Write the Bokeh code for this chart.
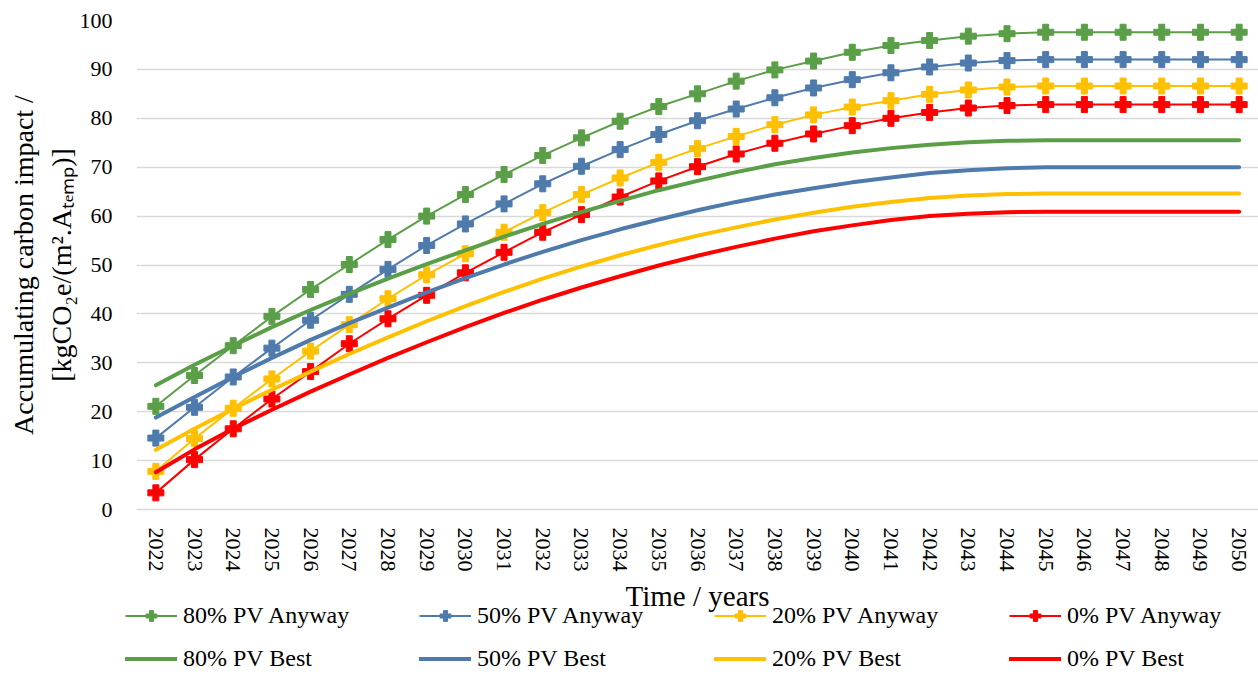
from bokeh.plotting import figure
from bokeh.layouts import column
from bokeh.models import Legend, LegendItem, FactorRange, Range1d, Label
from bokeh.embed import file_html
from bokeh.resources import INLINE

# Years on the category axis
years = ["2022", "2023", "2024", "2025", "2026", "2027", "2028", "2029", "2030",
         "2031", "2032", "2033", "2034", "2035", "2036", "2037", "2038", "2039",
         "2040", "2041", "2042", "2043", "2044", "2045", "2046", "2047", "2048",
         "2049", "2050"]

# "Anyway" scenarios (kgCO2e per m2 Atemp, accumulated)
anyway_80 = [21.1, 27.4, 33.5, 39.5, 45.0, 50.1, 55.2, 60.0, 64.4, 68.5, 72.4, 76.0,
             79.4, 82.4, 85.0, 87.6, 89.9, 91.7, 93.5, 94.9, 95.9, 96.8, 97.3, 97.6,
             97.6, 97.6, 97.6, 97.6, 97.6]
anyway_50 = [14.6, 20.9, 27.1, 33.0, 38.7, 44.0, 49.1, 54.0, 58.4, 62.5, 66.6, 70.2,
             73.6, 76.7, 79.5, 81.9, 84.2, 86.2, 87.9, 89.3, 90.5, 91.3, 91.8, 92.0,
             92.0, 92.0, 92.0, 92.0, 92.0]
anyway_20 = [7.8, 14.5, 20.7, 26.7, 32.4, 37.8, 43.1, 48.0, 52.3, 56.7, 60.7, 64.4,
             67.8, 71.0, 73.8, 76.3, 78.7, 80.7, 82.3, 83.6, 84.9, 85.8, 86.4, 86.6,
             86.6, 86.6, 86.6, 86.6, 86.6]
anyway_0 = [3.4, 10.2, 16.5, 22.6, 28.2, 33.9, 39.0, 43.8, 48.4, 52.6, 56.7, 60.3,
            63.9, 67.2, 70.1, 72.7, 74.9, 76.8, 78.5, 80.0, 81.2, 82.1, 82.6, 82.8,
            82.8, 82.8, 82.8, 82.8, 82.8]

# "Best" scenarios
best_80 = [25.4, 29.6, 33.5, 37.3, 40.8, 44.1, 47.2, 50.2, 53.0, 55.8, 58.4, 60.8,
           63.1, 65.3, 67.2, 69.0, 70.6, 71.9, 73.0, 73.9, 74.6, 75.1, 75.4, 75.5,
           75.5, 75.5, 75.5, 75.5, 75.5]
best_50 = [18.8, 23.0, 27.1, 31.0, 34.7, 38.1, 41.3, 44.4, 47.3, 50.1, 52.7, 55.1,
           57.3, 59.3, 61.2, 62.9, 64.4, 65.7, 66.9, 67.9, 68.8, 69.4, 69.8, 70.0,
           70.0, 70.0, 70.0, 70.0, 70.0]
best_20 = [12.2, 16.5, 20.6, 24.5, 28.2, 31.8, 35.2, 38.5, 41.6, 44.5, 47.2, 49.7,
           52.0, 54.1, 56.0, 57.7, 59.3, 60.7, 61.9, 62.9, 63.7, 64.2, 64.5, 64.6,
           64.6, 64.6, 64.6, 64.6, 64.6]
best_0 = [7.6, 12.3, 16.5, 20.4, 24.1, 27.6, 31.0, 34.2, 37.3, 40.2, 42.9, 45.4,
          47.7, 49.9, 51.9, 53.7, 55.4, 56.9, 58.1, 59.2, 60.0, 60.5, 60.8, 60.9,
          60.9, 60.9, 60.9, 60.9, 60.9]

y_ticks = [0, 10, 20, 30, 40, 50, 60, 70, 80, 90, 100]

labels_anyway = ["80% PV Anyway", "50% PV Anyway", "20% PV Anyway", "0% PV Anyway"]
labels_best = ["80% PV Best", "50% PV Best", "20% PV Best", "0% PV Best"]
colors = ["#5A9F48", "#4E7AAC", "#FFC000", "#FF0000"]

FONT = "Liberation Serif"
WIDTH = 1258
CHART_H = 575
KEY_H = 100
LEFT = 136

anyway_series = [anyway_80, anyway_50, anyway_20, anyway_0]
best_series = [best_80, best_50, best_20, best_0]

# ---------------------------------------------------------------- chart
p = figure(width=WIDTH, height=CHART_H,
           x_range=FactorRange(factors=years), y_range=Range1d(0, 100),
           output_backend="svg", toolbar_location=None,
           min_border_left=LEFT, min_border_right=0,
           min_border_top=20, min_border_bottom=CHART_H - 509)
p.outline_line_color = None
p.background_fill_color = "white"
p.border_fill_color = "white"

p.xgrid.grid_line_color = None
p.ygrid.grid_line_color = "#D9D9D9"
p.ygrid.grid_line_width = 1.5

p.yaxis.ticker = y_ticks
p.yaxis.axis_line_color = None
p.yaxis.major_tick_line_color = None
p.yaxis.minor_tick_line_color = None
p.yaxis.major_label_text_font = FONT
p.yaxis.major_label_text_font_size = "22px"
p.yaxis.major_label_text_color = "black"
p.yaxis.major_label_standoff = 18
p.yaxis.axis_label = "Accumulating carbon impact /\n[kgCO\u2082e/(m\u00b2.A\u209c\u2091\u2098\u209a)]"
p.yaxis.axis_label_text_font = FONT
p.yaxis.axis_label_text_font_size = "28px"
p.yaxis.axis_label_text_font_style = "normal"
p.yaxis.axis_label_text_color = "black"
p.yaxis.axis_label_standoff = 0

p.xaxis.axis_line_color = "#D9D9D9"
p.xaxis.axis_line_width = 1.5
p.xaxis.major_tick_line_color = None
p.xaxis.minor_tick_line_color = None
p.xaxis.major_label_orientation = "vertical"
p.xaxis.major_label_text_font = FONT
p.xaxis.major_label_text_font_size = "22px"
p.xaxis.major_label_text_color = "black"
p.xaxis.major_label_standoff = 12

for vals, color in zip(anyway_series, colors):
    p.line(years, vals, line_color=color, line_width=2)
    p.scatter(years, vals, marker="plus", size=16,
              fill_color=color, line_color=color, line_width=1)

for vals, color in zip(best_series, colors):
    p.line(years, vals, line_color=color, line_width=4, line_cap="round",
           line_join="round")

# ---------------------------------------------------------------- axis title + key
# The key strip uses the full width; its value range lies far outside the
# data, so the series below only feed the legend glyphs.
key = figure(width=WIDTH, height=KEY_H, x_range=FactorRange(factors=years),
             y_range=Range1d(-300, -200),
             x_axis_type=None, y_axis_type=None,
             output_backend="svg", toolbar_location=None,
             min_border=0, frame_align=False)
key.outline_line_color = None
key.grid.grid_line_color = None
key.border_fill_color = "white"
key.background_fill_color = "white"

key.add_layout(Label(x=LEFT + (WIDTH - LEFT) / 2, y=KEY_H - 20, x_units="screen",
                     y_units="screen", text="Time / years", text_font=FONT,
                     text_font_size="29px", text_color="black",
                     text_align="center", text_baseline="middle"))

column_x = [125, 419, 714, 1009]
for vals_a, vals_b, color, la, lb, cx in zip(anyway_series, best_series, colors,
                                               labels_anyway, labels_best, column_x):
    ln = key.line(years, vals_a, line_color=color, line_width=2)
    sc = key.scatter(years, vals_a, marker="plus", size=16,
                     fill_color=color, line_color=color, line_width=1)
    lb_ln = key.line(years, vals_b, line_color=color, line_width=4, line_cap="round")
    lg = Legend(items=[LegendItem(label=la, renderers=[ln, sc]),
                       LegendItem(label=lb, renderers=[lb_ln])],
                location=(cx, 3), orientation="vertical",
                border_line_color=None, background_fill_alpha=0,
                padding=0, margin=0, spacing=16,
                glyph_width=52, glyph_height=27, label_height=27,
                label_standoff=6, label_text_font=FONT,
                label_text_font_size="24px", label_text_color="black")
    key.add_layout(lg, "center")

layout = column(p, key, spacing=0)
open("out.html", "w").write(file_html(layout, INLINE))
